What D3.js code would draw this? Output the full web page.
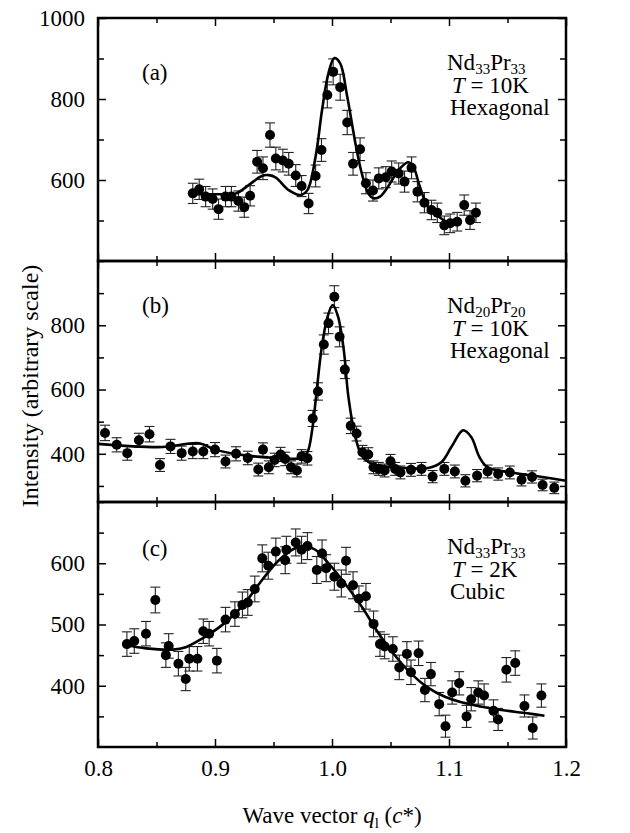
<!DOCTYPE html>
<html>
<head>
<meta charset="utf-8">
<script src="https://cdn.jsdelivr.net/npm/d3@7"></script>
<style>
  body { margin: 0; background: #fff; }
  svg text { font-family: "Liberation Serif", "DejaVu Serif", serif; fill: #000; }
</style>
</head>
<body>
<svg id="chart" width="630" height="833"></svg>
<script>
// panel (a) Nd33Pr33, 10K, hexagonal
const qA = [0.881, 0.8865, 0.892, 0.898, 0.903, 0.909, 0.914, 0.920, 0.925, 0.930, 0.936, 0.941, 0.947, 0.952, 0.958,
  0.963, 0.969, 0.974, 0.980, 0.986, 0.991, 0.996, 1.001, 1.007, 1.013, 1.018, 1.024, 1.029, 1.035, 1.040, 1.046,
  1.051, 1.057, 1.062, 1.068, 1.073, 1.079, 1.085, 1.090, 1.096, 1.101, 1.107, 1.113, 1.118, 1.123]
const intA = [567, 577, 559, 553, 528, 559, 559, 548, 533, 561, 645, 629, 711, 653, 648,
  640, 611, 585, 542, 610, 674, 810, 867, 829, 742, 640, 676, 592, 574, 604, 607,
  621, 616, 596, 630, 571, 544, 526, 519, 488, 493, 497, 538, 501, 519]
const errA = [25, 25, 25, 25, 25, 25, 25, 25, 25, 25, 28, 28, 30, 28, 28,
  28, 27, 26, 25, 27, 28, 32, 32, 32, 30, 28, 28, 26, 26, 26, 26,
  26, 26, 26, 27, 25, 25, 24, 24, 23, 23, 23, 25, 23, 24]
const fitQA = [0.8837, 0.895, 0.906, 0.918, 0.929, 0.940, 0.946, 0.952, 0.963, 0.973, 0.979, 0.986, 0.9915, 0.997,
  1.002, 1.007, 1.013, 1.020, 1.0255, 1.031, 1.0355, 1.041, 1.048, 1.057, 1.065, 1.0695, 1.075, 1.082, 1.091, 1.099, 1.105]
const fitA = [565, 565, 565, 567, 588, 610, 612, 606, 575, 563, 575, 658, 773, 864,
  901, 888, 806, 691, 616, 567, 555, 559, 584, 625, 644, 633, 584, 534, 510, 495, 490]

// panel (b) Nd20Pr20, 10K, hexagonal
const qB = [0.806, 0.816, 0.825, 0.835, 0.844, 0.853, 0.862, 0.8715, 0.881, 0.890, 0.900, 0.909, 0.918, 0.928, 0.937,
  0.941, 0.946, 0.951, 0.956, 0.960, 0.965, 0.970, 0.974, 0.979, 0.9835, 0.988, 0.993, 0.997, 1.002, 1.0065, 1.011,
  1.016, 1.021, 1.026, 1.031, 1.0355, 1.040, 1.045, 1.050, 1.054, 1.0585, 1.0675, 1.0765, 1.086, 1.096, 1.105, 1.114,
  1.124, 1.133, 1.142, 1.152, 1.162, 1.171, 1.180, 1.190]
const intB = [465, 428, 402, 442, 461, 365, 423, 402, 407, 407, 413, 376, 400, 387, 351,
  413, 358, 381, 398, 384, 358, 348, 392, 386, 510, 594, 740, 806, 889, 764, 662,
  487, 463, 405, 398, 358, 353, 348, 377, 353, 342, 350, 353, 329, 353, 345, 316,
  332, 345, 337, 342, 319, 328, 303, 294]
const errB = [24, 22, 22, 22, 24, 20, 22, 22, 22, 22, 22, 20, 22, 21, 20,
  21, 20, 21, 22, 21, 20, 20, 21, 21, 25, 27, 30, 32, 34, 31, 28,
  24, 23, 21, 21, 20, 20, 20, 21, 20, 20, 20, 20, 19, 20, 20, 19,
  19, 20, 19, 20, 19, 19, 18, 18]
const fitQB = [0.800, 0.855, 0.8865, 0.900, 0.926, 0.9545, 0.974, 0.979, 0.983, 0.987, 0.991, 0.996, 1.0006, 1.005,
  1.010, 1.014, 1.020, 1.0255, 1.034, 1.054, 1.082, 1.0935, 1.102, 1.112, 1.119, 1.126, 1.133, 1.153, 1.1815, 1.200]
const fitB = [431, 421, 433, 413, 395, 387, 387, 405, 473, 599, 725, 824, 863, 829,
  725, 578, 452, 395, 369, 358, 356, 374, 421, 473, 452, 390, 358, 342, 327, 316]

// panel (c) Nd33Pr33, 2K, cubic
const qC = [0.8247, 0.831, 0.841, 0.849, 0.858, 0.8604, 0.8687, 0.875, 0.878, 0.885, 0.890, 0.895, 0.9016, 0.909, 0.917,
  0.9234, 0.928, 0.934, 0.9404, 0.9455, 0.952, 0.960, 0.961, 0.969, 0.974, 0.979, 0.987, 0.9915, 0.995, 1.002, 1.008,
  1.012, 1.018, 1.023, 1.029, 1.0355, 1.041, 1.045, 1.052, 1.0575, 1.064, 1.0675, 1.074, 1.0794, 1.0845, 1.0916, 1.097,
  1.1027, 1.1087, 1.115, 1.119, 1.125, 1.130, 1.138, 1.142, 1.149, 1.1566, 1.1645, 1.1716, 1.179]
const intC = [468, 473, 485, 540, 450, 465, 436, 411, 444, 444, 489, 485, 441, 508, 517,
  532, 536, 558, 608, 596, 619, 605, 622, 634, 622, 628, 589, 616, 592, 578, 567,
  604, 564, 542, 546, 501, 468, 464, 460, 430, 452, 422, 453, 393, 419, 370, 334,
  389, 404, 350, 378, 389, 384, 359, 345, 426, 437, 367, 331, 384]
const errC = [20, 20, 20, 21, 20, 20, 20, 19, 20, 20, 20, 20, 20, 20, 20,
  21, 21, 21, 22, 22, 22, 22, 22, 22, 22, 22, 22, 22, 22, 22, 22,
  22, 22, 21, 21, 21, 20, 20, 20, 20, 20, 20, 20, 19, 19, 19, 18,
  19, 19, 18, 19, 19, 19, 18, 18, 20, 20, 18, 18, 19]
const fitQC = [0.8247, 0.841, 0.864, 0.875, 0.889, 0.906, 0.923, 0.9404, 0.9546, 0.9688, 0.977, 0.9858, 0.997, 1.011,
  1.0255, 1.040, 1.054, 1.068, 1.082, 1.0965, 1.1106, 1.139, 1.167, 1.1816]
const fitC = [466, 461, 459, 463, 477, 499, 529, 573, 605, 625, 628, 622, 600, 567,
  529, 485, 449, 419, 397, 382, 373, 362, 355, 351]

const xMajor = [0.8, 0.9, 1.0, 1.1, 1.2]
const xMinor = [0.85, 0.95, 1.05, 1.15]

const panels = [
  { id: "(a)", idY: 80, q: qA, v: intA, e: errA, fq: fitQA, f: fitA, top: 18, bottom: 261, domain: [400, 1000],
    major: [600, 800, 1000], minor: [500, 700, 900], sample: ["Nd", "33", "Pr", "33"], temp: "10K", phase: "Hexagonal" },
  { id: "(b)", idY: 313, q: qB, v: intB, e: errB, fq: fitQB, f: fitB, top: 261, bottom: 502, domain: [250, 1000],
    major: [400, 600, 800], minor: [300, 500, 700, 900, 1000], sample: ["Nd", "20", "Pr", "20"], temp: "10K", phase: "Hexagonal" },
  { id: "(c)", idY: 556, q: qC, v: intC, e: errC, fq: fitQC, f: fitC, top: 502, bottom: 747, domain: [300, 700],
    major: [400, 500, 600], minor: [350, 450, 550, 650, 700], sample: ["Nd", "33", "Pr", "33"], temp: "2K", phase: "Cubic" }
]

const left = 98, right = 566
const fs = 23

const svg = d3.select("#chart")
const x = d3.scaleLinear().domain([0.8, 1.2]).range([left, right])

panels.forEach((p, i) => {
  const y = d3.scaleLinear().domain(p.domain).range([p.bottom, p.top])
  const g = svg.append("g")
  const last = i === panels.length - 1

  // ticks, all pointing inwards
  const addAxis = (axis, tr) => {
    const a = g.append("g").attr("transform", tr).call(axis)
    a.select(".domain").remove()
    a.selectAll(".tick line").attr("stroke", "#000").attr("stroke-width", 1.5)
    a.selectAll("text").attr("font-size", fs).attr("font-family", "Liberation Serif").attr("fill", "#000")
    return a
  }
  addAxis(d3.axisBottom(x).tickValues(xMajor).tickSize(-8).tickPadding(13)
    .tickFormat(last ? d3.format(".1f") : () => ""), `translate(0,${p.bottom})`)
  addAxis(d3.axisBottom(x).tickValues(xMinor).tickSize(-5).tickFormat(""), `translate(0,${p.bottom})`)
  addAxis(d3.axisTop(x).tickValues(xMajor).tickSize(-8).tickFormat(""), `translate(0,${p.top})`)
  addAxis(d3.axisTop(x).tickValues(xMinor).tickSize(-5).tickFormat(""), `translate(0,${p.top})`)
  addAxis(d3.axisLeft(y).tickValues(p.major).tickSize(-8).tickPadding(13).tickFormat(d3.format("d")), `translate(${left},0)`)
  addAxis(d3.axisLeft(y).tickValues(p.minor).tickSize(-6).tickFormat(""), `translate(${left},0)`)
  addAxis(d3.axisRight(y).tickValues(p.major).tickSize(-8).tickFormat(""), `translate(${right},0)`)
  addAxis(d3.axisRight(y).tickValues(p.minor).tickSize(-6).tickFormat(""), `translate(${right},0)`)

  // error bars
  const pts = p.q.map((q, k) => ({ q, v: p.v[k], e: p.e[k] }))
  const eb = g.append("g").attr("stroke", "#222").attr("stroke-width", 1.1)
  eb.selectAll("line.bar").data(pts).join("line").attr("class", "bar")
    .attr("x1", (d) => x(d.q)).attr("x2", (d) => x(d.q))
    .attr("y1", (d) => y(d.v - d.e)).attr("y2", (d) => y(d.v + d.e))
  ;["top", "bot"].forEach((k) => {
    eb.selectAll("line." + k).data(pts).join("line").attr("class", k)
      .attr("x1", (d) => x(d.q) - 5).attr("x2", (d) => x(d.q) + 5)
      .attr("y1", (d) => y(k === "top" ? d.v + d.e : d.v - d.e))
      .attr("y2", (d) => y(k === "top" ? d.v + d.e : d.v - d.e))
  })

  // fitted curve
  const fit = p.fq.map((q, k) => [q, p.f[k]])
  g.append("path").datum(fit)
    .attr("fill", "none").attr("stroke", "#000").attr("stroke-width", 2.6)
    .attr("d", d3.line().x((d) => x(d[0])).y((d) => y(d[1])).curve(d3.curveCatmullRom.alpha(0.5)))

  // data points
  g.append("g").selectAll("circle").data(pts).join("circle")
    .attr("cx", (d) => x(d.q)).attr("cy", (d) => y(d.v)).attr("r", 5).attr("fill", "#000")

  // frame
  g.append("rect").attr("x", left).attr("y", p.top).attr("width", right - left).attr("height", p.bottom - p.top)
    .attr("fill", "none").attr("stroke", "#000").attr("stroke-width", 2.5)

  // panel label
  g.append("text").attr("x", 142).attr("y", p.idY).attr("font-size", fs).text(p.id)

  // sample description, one text block of three lines
  const tx = 447, ty = p.top + 52
  const t = g.append("text").attr("x", tx).attr("y", ty).attr("font-size", fs)
  t.append("tspan").text(p.sample[0])
  t.append("tspan").attr("font-size", 15).attr("dy", 4).text(p.sample[1])
  t.append("tspan").attr("dy", -4).text(p.sample[2])
  t.append("tspan").attr("font-size", 15).attr("dy", 4).text(p.sample[3])
  t.append("tspan").attr("x", tx + 5).attr("dy", 19).attr("font-style", "italic").text("T")
  t.append("tspan").text(" = " + p.temp)
  t.append("tspan").attr("x", tx + 3).attr("dy", 22).text(p.phase)
})

// axis titles
svg.append("text")
  .attr("transform", "translate(38,386) rotate(-90)")
  .attr("text-anchor", "middle").attr("font-size", 24)
  .text("Intensity (arbitrary scale)")

const xt = svg.append("text").attr("x", (left + right) / 2).attr("y", 823)
  .attr("text-anchor", "middle").attr("font-size", 23)
xt.append("tspan").text("Wave vector ")
xt.append("tspan").attr("font-style", "italic").text("q")
xt.append("tspan").attr("font-size", 15).attr("dy", 5).text("l")
xt.append("tspan").attr("dy", -5).text(" (")
xt.append("tspan").attr("font-style", "italic").text("c")
xt.append("tspan").text("*)")
</script>
</body>
</html>
